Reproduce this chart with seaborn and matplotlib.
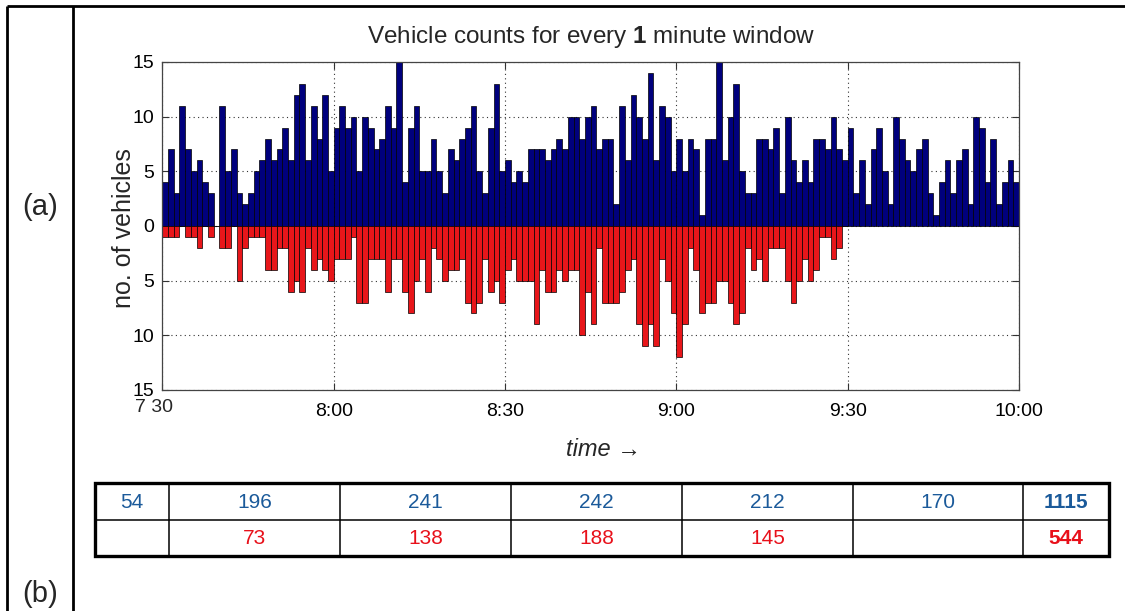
import matplotlib
matplotlib.use("Agg")
import matplotlib.pyplot as plt
import seaborn as sns
import pandas as pd
import numpy as np

# ---------------- data ----------------
# vehicle counts per 1-minute window, starting 7:30
blue_counts = [
    4, 7, 3, 11, 7, 5, 6, 4, 3, 0,
    11, 5, 7, 3, 2, 3, 5, 6, 8, 6,
    7, 9, 6, 12, 13, 6, 11, 8, 12, 5,
    9, 11, 9, 10, 5, 10, 9, 7, 8, 11,
    9, 15, 4, 9, 11, 5, 5, 8, 5, 3,
    7, 6, 8, 9, 11, 5, 3, 9, 13, 5,
    6, 4, 5, 4, 7, 7, 7, 6, 7, 8,
    7, 10, 10, 8, 10, 11, 7, 8, 8, 2,
    11, 6, 12, 10, 8, 14, 6, 11, 10, 5,
    8, 5, 8, 7, 1, 8, 8, 15, 6, 10,
    13, 5, 3, 3, 8, 8, 7, 9, 3, 10,
    6, 4, 6, 4, 8, 8, 7, 10, 7, 6,
    9, 3, 6, 2, 7, 9, 5, 2, 10, 8,
    6, 5, 7, 8, 3, 1, 4, 6, 3, 6,
    7, 2, 10, 9, 4, 8, 2, 4, 6, 4,
]
red_counts = [
    1, 1, 1, 0, 1, 1, 2, 0, 1, 0,
    2, 2, 0, 5, 2, 1, 1, 1, 4, 4,
    2, 2, 6, 5, 6, 2, 4, 3, 4, 5,
    3, 3, 3, 1, 7, 7, 3, 3, 3, 6,
    3, 3, 6, 8, 5, 3, 6, 2, 3, 5,
    4, 4, 3, 7, 8, 7, 3, 6, 5, 7,
    4, 3, 5, 5, 5, 9, 4, 6, 6, 4,
    5, 4, 4, 10, 6, 9, 2, 7, 7, 7,
    6, 4, 3, 9, 11, 9, 11, 3, 5, 8,
    12, 9, 2, 4, 8, 7, 7, 5, 5, 7,
    9, 8, 2, 4, 3, 5, 2, 2, 2, 5,
    7, 5, 3, 5, 4, 1, 1, 3, 2, 0,
]
x_tick_minutes = [0, 30, 60, 90, 120, 150]
x_tick_labels = ["", "8:00", "8:30", "9:00", "9:30", "10:00"]
y_ticks = [-15, -10, -5, 0, 5, 10, 15]

table_blue = ["54", "196", "241", "242", "212", "170", "1115"]
table_red = ["", "73", "138", "188", "145", "", "544"]

BLUE = "#00007d"
RED = "#e8161a"
TBLUE = "#1b5a9a"
TRED = "#e8101a"

# ---------------- style ----------------
sns.set_style("ticks")
plt.rcParams["font.family"] = ["Liberation Sans", "DejaVu Sans"]
plt.rcParams["mathtext.fontset"] = "custom"
plt.rcParams["mathtext.rm"] = "Liberation Sans"
plt.rcParams["mathtext.bf"] = "Liberation Sans:bold"

W, H = 1125, 611
fig = plt.figure(figsize=(W / 100, H / 100), dpi=100)
fig.patch.set_facecolor("white")

ax_l, ax_r, ax_t, ax_b = 162.3, 1019.0, 62.0, 390.0
ax = fig.add_axes([ax_l / W, 1 - ax_b / H, (ax_r - ax_l) / W, (ax_b - ax_t) / H])

df_blue = pd.DataFrame({"minute": np.arange(len(blue_counts)) + 0.5,
                        "count": blue_counts})
df_red = pd.DataFrame({"minute": np.arange(len(red_counts)) + 0.5,
                       "count": [-v for v in red_counts]})

sns.barplot(data=df_blue, x="minute", y="count", native_scale=True, width=1,
            color=BLUE, saturation=1, edgecolor="black", linewidth=0.5,
            errorbar=None, ax=ax, zorder=2)
sns.barplot(data=df_red, x="minute", y="count", native_scale=True, width=1,
            color=RED, saturation=1, edgecolor="black", linewidth=0.5,
            errorbar=None, ax=ax, zorder=2)

ax.set_xlim(0, 150)
ax.set_ylim(-15, 15)
ax.set_xticks(x_tick_minutes)
ax.set_xticklabels(x_tick_labels)
ax.set_yticks(y_ticks)
ax.set_yticklabels([str(abs(v)) for v in y_ticks])
ax.set_xlabel("")
ax.set_ylabel("")
ax.tick_params(direction="in", top=True, right=True, length=5, width=0.8,
               labelsize=14, colors="#333333", labelcolor="black")
ax.tick_params(axis="x", pad=9)
ax.tick_params(axis="y", pad=6)
ax.grid(True, linestyle=(0, (1, 3)), color="#333333", linewidth=0.8)
ax.set_axisbelow(True)
for s in ax.spines.values():
    s.set_visible(True)
    s.set_color("#444444")
    s.set_linewidth(0.9)

# ---------------- overlay (frame, labels, table) ----------------
ov = fig.add_axes([0, 0, 1, 1], zorder=-1)
ov.set_xlim(0, W)
ov.set_ylim(H, 0)
ov.axis("off")

ov.plot([7, W], [6, 6], color="black", lw=2, solid_capstyle="butt")
ov.plot([7, 7], [6, H], color="black", lw=2, solid_capstyle="butt")
ov.plot([73, 73], [6, H], color="black", lw=2, solid_capstyle="butt")

ov.text(40, 207, "(a)", fontsize=21, ha="center", va="center")
ov.text(40, 594, "(b)", fontsize=21, ha="center", va="center")

ov.text((ax_l + ax_r) / 2, 37, r"Vehicle counts for every $\mathbf{1}$ minute window",
        fontsize=17.5, ha="center", va="center")
ov.text(124, 228, "no. of vehicles", fontsize=18, rotation=90,
        ha="center", va="center")
ov.text(603, 449, "time \u2192", fontsize=17, style="italic",
        ha="center", va="center")
ov.text(154, 407, "7 30", fontsize=14, ha="center", va="center")

# table
col_edges = [95, 169, 340, 511, 682, 853, 1023, 1109]
row_edges = [483, 519.5, 556]
for xe in col_edges[1:-1]:
    ov.plot([xe, xe], [row_edges[0], row_edges[-1]], color="black", lw=1.1)
ov.plot([col_edges[0], col_edges[-1]], [row_edges[1], row_edges[1]],
        color="black", lw=1.1)
ov.add_patch(plt.Rectangle((col_edges[0], row_edges[0]),
                           col_edges[-1] - col_edges[0],
                           row_edges[-1] - row_edges[0],
                           fill=False, ec="black", lw=2.4))
for i in range(len(table_blue)):
    cx = (col_edges[i] + col_edges[i + 1]) / 2
    bold = "bold" if i == len(table_blue) - 1 else "normal"
    ov.text(cx, (row_edges[0] + row_edges[1]) / 2 + 1, table_blue[i],
            color=TBLUE, fontsize=15, ha="center", va="center", fontweight=bold)
    ov.text(cx, (row_edges[1] + row_edges[2]) / 2 + 1, table_red[i],
            color=TRED, fontsize=15, ha="center", va="center", fontweight=bold)

fig.savefig("out.png", dpi=100, facecolor="white")
